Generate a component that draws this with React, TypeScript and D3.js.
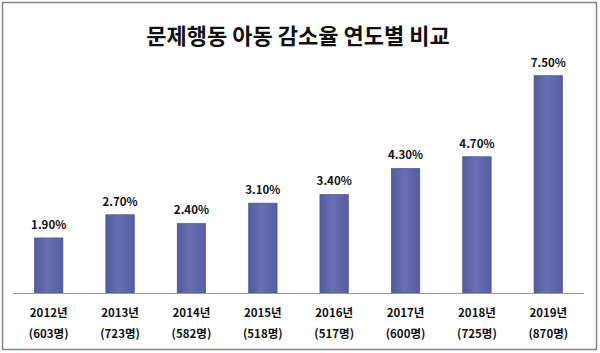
import { useEffect, useRef } from 'react';
import * as d3 from 'd3';

const title = '문제행동 아동 감소율 연도별 비교';
const years = ['2012년', '2013년', '2014년', '2015년', '2016년', '2017년', '2018년', '2019년'];
const counts = ['(603명)', '(723명)', '(582명)', '(518명)', '(517명)', '(600명)', '(725명)', '(870명)'];
const rates = [1.9, 2.7, 2.4, 3.1, 3.4, 4.3, 4.7, 7.5];

const W = 600;
const H = 353;
const FONT = '"Noto Sans CJK KR", "Noto Sans", sans-serif';

const App = () => {
  const ref = useRef<SVGSVGElement>(null);

  useEffect(() => {
    const svg = d3.select(ref.current);
    svg.selectAll('*').remove();

    const defs = svg.append('defs');
    const grad = defs
      .append('linearGradient')
      .attr('id', 'barGrad')
      .attr('x1', '0%')
      .attr('x2', '100%')
      .attr('y1', '0%')
      .attr('y2', '0%');
    grad.append('stop').attr('offset', '0%').attr('stop-color', '#535b9f');
    grad.append('stop').attr('offset', '45%').attr('stop-color', '#6870b3');
    grad.append('stop').attr('offset', '100%').attr('stop-color', '#555da1');

    // outer frame
    svg
      .append('rect')
      .attr('x', 2.5)
      .attr('y', 2.5)
      .attr('width', 594)
      .attr('height', 347)
      .attr('fill', '#fff')
      .attr('stroke', '#8a8585')
      .attr('stroke-width', 1.5);

    svg
      .append('text')
      .attr('x', 298)
      .attr('y', 44)
      .attr('text-anchor', 'middle')
      .style('font-family', FONT)
      .style('font-weight', 'bold')
      .style('font-size', '22px')
      .attr('fill', '#111')
      .text(title);

    const x = d3.scaleBand<string>().domain(years).range([13, 584]).paddingInner(0.6).paddingOuter(0.3);
    const baseY = 293;
    const y = d3.scaleLinear().domain([0, 7.5]).range([baseY, 75.5]);

    const g = svg.append('g');

    g.selectAll('rect.bar')
      .data(rates)
      .join('rect')
      .attr('class', 'bar')
      .attr('x', (_d, i) => x(years[i]) as number)
      .attr('y', (d) => y(d))
      .attr('width', x.bandwidth())
      .attr('height', (d) => baseY - y(d))
      .attr('fill', 'url(#barGrad)')
      .attr('stroke', '#4f5796')
      .attr('stroke-width', 0.6);

    g.selectAll('text.val')
      .data(rates)
      .join('text')
      .attr('class', 'val')
      .attr('x', (_d, i) => (x(years[i]) as number) + x.bandwidth() / 2)
      .attr('y', (d) => y(d) - 9)
      .attr('text-anchor', 'middle')
      .style('font-family', FONT)
      .style('font-weight', 'bold')
      .style('font-size', '11.5px')
      .attr('fill', '#111')
      .text((d) => d.toFixed(2) + '%');

    // axis line
    svg
      .append('line')
      .attr('x1', 13)
      .attr('x2', 584)
      .attr('y1', baseY + 0.5)
      .attr('y2', baseY + 0.5)
      .attr('stroke', '#9a9a9a')
      .attr('stroke-width', 1.2);

    const lab = svg
      .append('g')
      .style('font-family', FONT)
      .style('font-weight', 'bold')
      .style('font-size', '11.5px')
      .attr('fill', '#111')
      .attr('text-anchor', 'middle');

    lab
      .selectAll('text.yr')
      .data(years)
      .join('text')
      .attr('class', 'yr')
      .attr('x', (d) => (x(d) as number) + x.bandwidth() / 2)
      .attr('y', 317)
      .text((d) => d);

    lab
      .selectAll('text.cnt')
      .data(counts)
      .join('text')
      .attr('class', 'cnt')
      .attr('x', (_d, i) => (x(years[i]) as number) + x.bandwidth() / 2)
      .attr('y', 338)
      .text((d) => d);
  }, []);

  return (
    <svg
      ref={ref}
      width={W}
      height={H}
      style={{ position: 'absolute', left: 0, top: 0, display: 'block' }}
    />
  );
};

export default App;
